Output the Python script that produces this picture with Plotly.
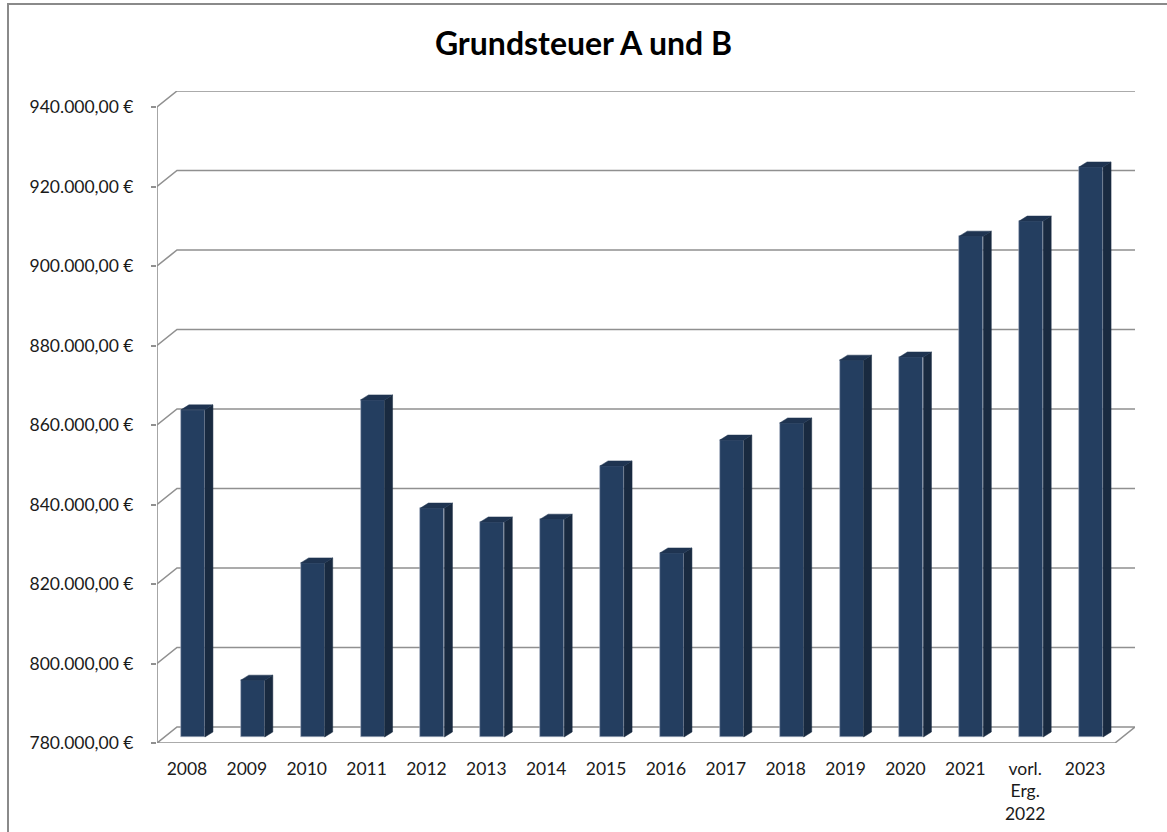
import plotly.graph_objects as go

# ---- data ----
categories = ["2008", "2009", "2010", "2011", "2012", "2013", "2014", "2015",
              "2016", "2017", "2018", "2019", "2020", "2021", "vorl.<br>Erg.<br>2022", "2023"]
values = [862300, 794300, 823800, 864800, 837600, 834100, 834800, 848200,
          826300, 854700, 859000, 874800, 875600, 906000, 909800, 923400]
tick_values = [780000, 800000, 820000, 840000, 860000, 880000, 900000, 920000, 940000]
tick_labels = ["780.000,00 €", "800.000,00 €", "820.000,00 €", "840.000,00 €", "860.000,00 €",
               "880.000,00 €", "900.000,00 €", "920.000,00 €", "940.000,00 €"]
y_min = 780000

# ---- geometry of the pseudo-3D look (px converted to data units) ----
W, H = 1167, 832
L, R, T, B = 157, 32, 91, 89
plot_w = W - L - R
plot_h = H - T - B
px_per_cat = 958 / len(categories)         # front floor width / categories
x_lo = -0.5
x_hi = x_lo + plot_w / px_per_cat
px_per_unit = 0.003975                      # px per euro
y_hi = y_min + plot_h / px_per_unit
DX = 20 / px_per_cat                        # back wall depth shift
DY = 16 / px_per_unit
BX = 6 / px_per_cat                         # bar depth shift
BY = 6 / px_per_unit
BW = 24 / px_per_cat                        # bar front width
SX = 8 / px_per_cat                         # bar side depth
SY = 5 / px_per_unit

x_idx = list(range(len(categories)))
grid_col = "#909090"

fig = go.Figure()

# back wall gridlines + floor as shapes below the bars
shapes = []
def path_shape(pts, closed=False):
    d = "M " + " L ".join(f"{x},{y}" for x, y in pts) + (" Z" if closed else "")
    return dict(type="path", path=d, xref="x", yref="y", layer="below",
                line=dict(color=grid_col, width=1.6))

for v in tick_values[1:]:
    shapes.append(path_shape([(x_lo, v), (x_lo + DX, v + DY), (x_hi, v + DY)]))
n = len(categories)
shapes.append(path_shape([(x_lo, y_min), (x_lo + n, y_min), (x_lo + n + DX, y_min + DY),
                          (x_lo + DX, y_min + DY)], closed=True))
shapes.append(path_shape([(x_lo, y_min), (x_lo, tick_values[-1])]))

# front faces
base = y_min + BY
fig.add_trace(go.Bar(
    x=[i + BX for i in x_idx],
    y=[v - y_min for v in values],
    base=base,
    width=BW,
    marker=dict(color="#243e60", line=dict(color="#a9b3c2", width=0.6)),
    showlegend=False,
    hovertemplate="%{customdata}<extra></extra>",
    customdata=values,
))

# side faces & top faces
sx, sy, tx, ty = [], [], [], []
for i, v in zip(x_idx, values):
    xl = i + BX - BW / 2
    xr = i + BX + BW / 2
    top = v + BY
    sx += [xr, xr, xr + SX, xr + SX, xr, None]
    sy += [base, top, top + SY, base + SY, base, None]
    tx += [xl, xr, xr + SX, xl + SX, xl, None]
    ty += [top, top, top + SY, top + SY, top, None]
fig.add_trace(go.Scatter(x=sx, y=sy, mode="lines", fill="toself", fillcolor="#192a40",
                         line=dict(color="#192a40", width=0.5), hoverinfo="skip", showlegend=False))
fig.add_trace(go.Scatter(x=tx, y=ty, mode="lines", fill="toself", fillcolor="#1f3451",
                         line=dict(color="#1f3451", width=0.5), hoverinfo="skip", showlegend=False))

# outer chart border
shapes.append(dict(type="rect", xref="paper", yref="paper",
                   x0=(8 - L) / plot_w, x1=(W + 20 - L) / plot_w,
                   y0=-(B + 20) / plot_h, y1=(H - B - 4) / plot_h,
                   line=dict(color="#8a8a8a", width=2), fillcolor="rgba(0,0,0,0)", layer="below"))

font_family = "Lato, 'Open Sans', sans-serif"
fig.update_layout(
    width=W, height=H,
    margin=dict(l=L, r=R, t=T, b=B, autoexpand=False),
    paper_bgcolor="white", plot_bgcolor="white",
    bargap=0,
    title=dict(text="<b>Grundsteuer A und B</b>", x=0.5, xanchor="center",
               y=1 - 44 / H, yanchor="middle", yref="container",
               font=dict(family=font_family, size=32, color="#000000")),
    xaxis=dict(range=[x_lo, x_hi], tickvals=x_idx, ticktext=categories,
               showgrid=False, zeroline=False, showline=False, ticks="",
               ticklabelstandoff=13, automargin=False,
               tickfont=dict(family=font_family, size=17.5, color="#1a1a1a")),
    yaxis=dict(range=[y_min, y_hi], tickvals=tick_values, ticktext=tick_labels,
               showgrid=False, zeroline=False, showline=False,
               ticks="outside", ticklen=5, tickcolor=grid_col, tickwidth=1.6,
               ticklabelstandoff=14, automargin=False,
               tickfont=dict(family=font_family, size=17.5, color="#1a1a1a")),
    shapes=shapes,
)

fig.write_html("out.html", config={"displayModeBar": False},
               post_script="document.body.style.margin='0';document.body.style.overflow='hidden';")
